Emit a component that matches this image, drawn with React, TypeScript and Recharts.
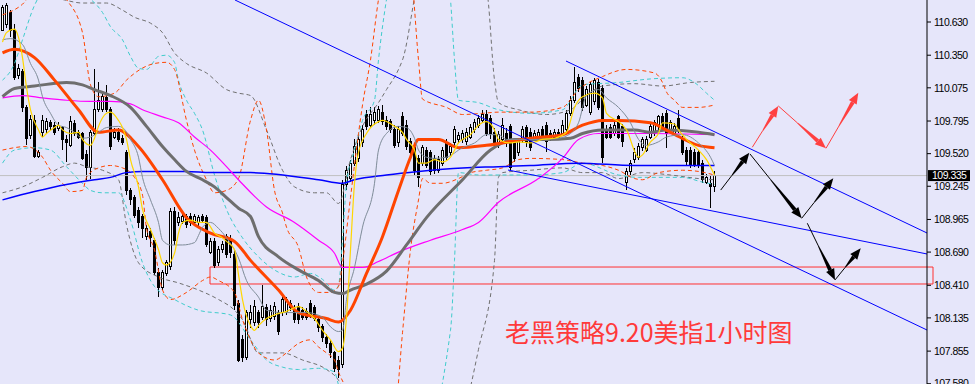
import React from 'react';
import { ComposedChart, Bar, Line, XAxis, YAxis, ReferenceLine, ReferenceArea } from 'recharts';

// candles, one per hour
const opens = [
  110.56, 110.61, 110.71, 110.56, 110.18, 110.21, 109.91, 109.67, 109.8, 109.5,
  109.7, 109.72, 109.78, 109.76, 109.73, 109.74, 109.64, 109.59, 109.77, 109.7,
  109.69, 109.51, 109.4, 109.69, 109.89, 109.89, 109.99, 109.89, 109.66, 109.7,
  109.65, 109.53, 109.21, 109.15, 109.04, 108.99, 108.82, 108.86, 108.79, 108.52,
  108.39, 108.51, 108.57, 109.03, 108.94, 108.95, 108.99, 108.99, 108.94, 108.94,
  108.99, 108.98, 108.69, 108.78, 108.6, 108.71, 108.82, 108.79, 108.67, 108.26,
  107.95, 107.8, 108.12, 108.1, 108.18, 108.14, 108.22, 108.13, 108.15, 108.18,
  108.18, 108.19, 108.26, 108.2, 108.23, 108.2, 108.19, 108.26, 108.22, 108.12,
  108.06, 107.97, 107.92, 107.84, 107.78, 107.74, 109.26, 109.31, 109.44, 109.48,
  109.61, 109.85, 109.76, 109.8, 109.8, 109.87, 109.8, 109.79, 109.72, 109.61,
  109.83, 109.76, 109.62, 109.57, 109.48, 109.44, 109.55, 109.53, 109.48, 109.38,
  109.44, 109.61, 109.53, 109.61, 109.64, 109.64, 109.62, 109.66, 109.72, 109.76,
  109.8, 109.85, 109.82, 109.7, 109.59, 109.64, 109.69, 109.75, 109.62, 109.53,
  109.64, 109.74, 109.7, 109.65, 109.66, 109.72, 109.76, 109.69, 109.66, 109.7,
  109.69, 109.72, 109.86, 109.97, 110.16, 110.14, 109.93, 109.87, 109.96, 110.12,
  110.07, 109.72, 109.74, 109.69, 109.83, 109.75, 109.28, 109.37, 109.47, 109.49,
  109.57, 109.55, 109.66, 109.69, 109.75, 109.83, 109.86, 109.72, 109.69, 109.82,
  109.64, 109.55, 109.55, 109.53, 109.53, 109.44, 109.28, 109.27, 109.24,
];
const closes = [
  110.75, 110.77, 110.56, 110.16, 110.24, 109.91, 109.65, 109.81, 109.5, 109.53,
  109.8, 109.79, 109.75, 109.7, 109.76, 109.64, 109.61, 109.79, 109.69, 109.66,
  109.48, 109.4, 109.7, 109.89, 109.97, 110.0, 109.89, 109.58, 109.7, 109.64,
  109.61, 109.21, 109.13, 109.0, 108.94, 108.89, 108.89, 108.81, 108.52, 108.39,
  108.52, 108.6, 109.03, 108.79, 108.98, 108.99, 108.92, 108.94, 108.99, 108.98,
  108.96, 108.75, 108.78, 108.58, 108.71, 108.75, 108.67, 108.69, 108.24, 107.78,
  107.8, 108.18, 108.18, 108.23, 108.1, 108.23, 108.12, 108.2, 108.23, 108.02,
  108.29, 108.29, 108.22, 108.12, 108.12, 108.14, 108.14, 108.16, 108.13, 108.05,
  107.97, 107.92, 107.84, 107.71, 107.7, 109.26, 109.38, 109.44, 109.58, 109.64,
  109.72, 109.75, 109.85, 109.87, 109.89, 109.79, 109.75, 109.72, 109.59, 109.72,
  109.69, 109.58, 109.53, 109.38, 109.32, 109.57, 109.42, 109.37, 109.38, 109.47,
  109.55, 109.49, 109.58, 109.72, 109.67, 109.69, 109.7, 109.74, 109.78, 109.82,
  109.85, 109.69, 109.69, 109.61, 109.68, 109.76, 109.61, 109.4, 109.48, 109.62,
  109.72, 109.61, 109.57, 109.69, 109.7, 109.65, 109.62, 109.65, 109.7, 109.66,
  109.76, 109.86, 109.97, 110.12, 110.07, 109.91, 110.06, 110.1, 110.14, 109.91,
  109.49, 109.66, 109.66, 109.76, 109.66, 109.62, 109.37, 109.44, 109.53, 109.58,
  109.64, 109.64, 109.75, 109.78, 109.83, 109.75, 109.69, 109.78, 109.75, 109.72,
  109.53, 109.45, 109.42, 109.42, 109.42, 109.3, 109.32, 109.24, 109.335,
];
const highs = [
  110.77, 110.79, 110.73, 110.61, 110.28, 110.23, 109.93, 109.85, 109.85, 109.55,
  109.85, 109.82, 109.8, 109.79, 109.79, 109.75, 109.68, 109.84, 109.8, 109.72,
  109.7, 109.55, 109.72, 110.23, 110.12, 110.04, 110.1, 109.91, 109.74, 109.74,
  109.68, 109.55, 109.23, 109.17, 109.07, 109.01, 108.92, 108.89, 108.81, 108.56,
  108.54, 108.62, 109.06, 109.07, 109.03, 109.03, 109.01, 109.02, 109.01, 109.0,
  109.01, 109.0, 108.81, 108.81, 108.74, 108.78, 108.84, 108.83, 108.71, 108.29,
  107.99, 108.2, 108.24, 108.29, 108.2, 108.41, 108.25, 108.24, 108.27, 108.2,
  108.32, 108.31, 108.29, 108.24, 108.26, 108.23, 108.22, 108.29, 108.24, 108.14,
  108.08, 108.0, 107.95, 107.86, 107.81, 109.3, 109.42, 109.47, 109.64, 109.68,
  109.76, 109.89, 109.91, 109.91, 109.92, 109.93, 109.84, 109.81, 109.76, 109.75,
  109.87, 109.8, 109.65, 109.59, 109.51, 109.59, 109.58, 109.55, 109.51, 109.5,
  109.58, 109.64, 109.61, 109.75, 109.7, 109.72, 109.74, 109.77, 109.81, 109.85,
  109.89, 109.89, 109.85, 109.74, 109.71, 109.82, 109.74, 109.77, 109.65, 109.65,
  109.75, 109.76, 109.74, 109.72, 109.73, 109.75, 109.79, 109.72, 109.73, 109.73,
  109.8, 109.89, 110.01, 110.25, 110.19, 110.17, 110.09, 110.12, 110.16, 110.15,
  110.1, 109.76, 109.77, 109.8, 109.85, 109.77, 109.4, 109.47, 109.57, 109.61,
  109.66, 109.67, 109.78, 109.8, 109.85, 109.86, 109.89, 109.8, 109.78, 109.89,
  109.67, 109.58, 109.58, 109.56, 109.55, 109.47, 109.35, 109.33, 109.37,
];
const lows = [
  110.55, 110.58, 110.5, 110.14, 110.15, 109.87, 109.59, 109.64, 109.48, 109.48,
  109.66, 109.69, 109.72, 109.68, 109.71, 109.55, 109.45, 109.58, 109.67, 109.64,
  109.47, 109.3, 109.31, 109.68, 109.87, 109.87, 109.87, 109.55, 109.64, 109.62,
  109.59, 109.17, 109.09, 108.98, 108.89, 108.81, 108.79, 108.73, 108.5, 108.31,
  108.37, 108.49, 108.54, 108.75, 108.91, 108.93, 108.89, 108.91, 108.92, 108.91,
  108.94, 108.73, 108.67, 108.56, 108.57, 108.68, 108.64, 108.64, 108.2, 107.76,
  107.76, 107.78, 108.05, 108.07, 108.05, 108.12, 108.07, 108.1, 108.12, 107.99,
  108.15, 108.16, 108.19, 108.09, 108.08, 108.12, 108.12, 108.13, 108.11, 108.02,
  107.93, 107.88, 107.8, 107.68, 107.63, 107.71, 109.21, 109.28, 109.42, 109.45,
  109.58, 109.72, 109.74, 109.76, 109.78, 109.76, 109.72, 109.69, 109.57, 109.58,
  109.67, 109.55, 109.5, 109.34, 109.24, 109.42, 109.4, 109.34, 109.35, 109.36,
  109.42, 109.47, 109.5, 109.58, 109.61, 109.61, 109.59, 109.64, 109.69, 109.74,
  109.78, 109.67, 109.64, 109.58, 109.57, 109.61, 109.58, 109.38, 109.45, 109.5,
  109.61, 109.58, 109.54, 109.63, 109.64, 109.63, 109.53, 109.63, 109.64, 109.64,
  109.67, 109.69, 109.84, 109.95, 110.04, 109.88, 109.91, 109.85, 109.93, 109.89,
  109.44, 109.64, 109.64, 109.67, 109.64, 109.58, 109.21, 109.34, 109.44, 109.47,
  109.54, 109.53, 109.64, 109.67, 109.72, 109.72, 109.57, 109.69, 109.67, 109.69,
  109.51, 109.42, 109.4, 109.41, 109.4, 109.27, 109.26, 109.06, 109.2,
];

// moving averages: [bar, price]
const yellowMa = [
  [0, 110.46], [1, 110.54], [3, 110.57], [4, 110.5], [5, 110.33], [6, 110.08], [7, 109.89], [9, 109.72],
  [10, 109.66], [11, 109.69], [13, 109.74], [14, 109.76], [15, 109.72], [17, 109.69], [19, 109.7], [20, 109.64],
  [22, 109.59], [23, 109.65], [24, 109.75], [26, 109.86], [27, 109.87], [29, 109.8], [30, 109.74], [31, 109.64],
  [32, 109.47], [34, 109.24], [35, 109.05], [37, 108.88], [39, 108.71], [40, 108.6], [41, 108.58], [43, 108.68],
  [44, 108.85], [45, 108.94], [47, 108.96], [49, 108.94], [50, 108.94], [51, 108.94], [53, 108.85], [55, 108.81],
  [56, 108.78], [58, 108.71], [59, 108.5], [60, 108.29], [62, 108.07], [63, 108.03], [64, 108.07], [66, 108.13],
  [68, 108.16], [71, 108.19], [74, 108.23], [76, 108.19], [78, 108.13], [80, 108.03], [82, 107.95], [84, 107.85],
  [85, 107.88], [86, 108.14], [87, 108.71], [88, 109.27], [89, 109.53], [91, 109.69], [94, 109.79], [95, 109.8],
  [98, 109.75], [100, 109.7], [101, 109.64], [103, 109.55], [104, 109.44], [106, 109.44], [108, 109.47], [110, 109.45],
  [112, 109.49], [114, 109.61], [117, 109.68], [119, 109.76], [121, 109.79], [123, 109.72], [124, 109.64], [127, 109.61],
  [129, 109.62], [132, 109.61], [135, 109.64], [138, 109.65], [141, 109.7], [143, 109.91], [145, 110.0], [148, 110.03],
  [150, 109.99], [151, 109.86], [154, 109.79], [156, 109.72], [159, 109.49], [160, 109.51], [162, 109.62], [164, 109.69],
  [165, 109.78], [168, 109.77], [169, 109.72], [171, 109.64], [174, 109.55], [176, 109.47], [178, 109.34],
];
const slateMa = [
  [0, 110.48], [2, 110.49], [5, 110.44], [7, 110.28], [9, 110.14], [10, 110.0], [12, 109.86], [14, 109.76],
  [16, 109.74], [18, 109.7], [20, 109.65], [22, 109.66], [24, 109.7], [26, 109.74], [29, 109.75], [30, 109.74],
  [32, 109.64], [34, 109.49], [35, 109.32], [37, 109.13], [39, 108.94], [40, 108.79], [42, 108.75], [45, 108.75],
  [48, 108.77], [49, 108.83], [50, 108.9], [52, 108.94], [54, 108.89], [56, 108.81], [59, 108.64], [61, 108.45],
  [64, 108.31], [66, 108.2], [70, 108.18], [73, 108.18], [76, 108.18], [80, 108.14], [82, 108.06], [84, 108.02],
  [85, 108.03], [86, 108.29], [88, 108.56], [90, 108.9], [93, 109.27], [94, 109.55], [96, 109.69], [99, 109.75],
  [101, 109.74], [103, 109.65], [104, 109.55], [106, 109.49], [108, 109.48], [111, 109.49], [115, 109.57], [118, 109.61],
  [121, 109.68], [124, 109.68], [126, 109.64], [129, 109.64], [134, 109.64], [139, 109.65], [142, 109.69], [144, 109.78],
  [146, 110.01], [149, 110.06], [151, 109.99], [154, 109.91], [157, 109.78], [159, 109.64], [161, 109.59], [164, 109.62],
  [166, 109.66], [170, 109.68], [174, 109.61], [177, 109.49], [178, 109.42],
];
const orangeMa = [
  [0, 110.37], [3, 110.4], [8, 110.33], [13, 110.14], [19, 109.89], [24, 109.7], [29, 109.72], [34, 109.58],
  [40, 109.3], [46, 108.98], [52, 108.85], [58, 108.78], [62, 108.62], [69, 108.37], [74, 108.18], [81, 108.13],
  [84, 108.1], [87, 108.2], [91, 108.51], [95, 108.82], [99, 109.21], [102, 109.49], [104, 109.64], [109, 109.64],
  [114, 109.57], [121, 109.59], [132, 109.65], [140, 109.68], [145, 109.76], [150, 109.8], [154, 109.8], [162, 109.78],
  [167, 109.7], [174, 109.59], [178, 109.57],
];
const grayMa = [
  [0, 110.0], [3, 110.07], [8, 110.09], [16, 110.12], [20, 110.1], [23, 110.06], [27, 110.01], [32, 109.91],
  [36, 109.75], [40, 109.58], [43, 109.47], [46, 109.37], [50, 109.3], [53, 109.24], [56, 109.15], [59, 109.06],
  [62, 108.99], [64, 108.82], [69, 108.65], [74, 108.54], [79, 108.45], [83, 108.35], [85, 108.34], [87, 108.37],
  [91, 108.42], [96, 108.53], [101, 108.75], [106, 108.98], [115, 109.3], [122, 109.55], [128, 109.64], [136, 109.64],
  [142, 109.65], [145, 109.69], [150, 109.72], [158, 109.72], [162, 109.7], [166, 109.72], [174, 109.7], [178, 109.68],
];
const magentaMa = [
  [0, 109.99], [5, 110.01], [10, 109.99], [16, 109.97], [22, 109.96], [27, 109.96], [32, 109.94], [35, 109.89],
  [40, 109.83], [44, 109.78], [48, 109.66], [52, 109.55], [56, 109.41], [59, 109.3], [66, 109.07], [73, 108.94],
  [79, 108.79], [83, 108.68], [85, 108.56], [87, 108.56], [90, 108.56], [94, 108.61], [99, 108.69], [107, 108.79],
  [115, 108.88], [119, 108.94], [124, 109.11], [134, 109.31], [140, 109.48], [144, 109.64], [149, 109.69], [162, 109.69],
  [178, 109.68],
];
const blueMa = [
  [0, 109.13], [8, 109.2], [16, 109.26], [23, 109.3], [27, 109.32], [31, 109.36], [35, 109.37], [41, 109.37],
  [46, 109.37], [52, 109.36], [62, 109.36], [79, 109.3], [85, 109.27], [88, 109.3], [96, 109.34], [104, 109.37],
  [115, 109.4], [124, 109.41], [132, 109.42], [144, 109.44], [158, 109.42], [178, 109.42],
];

// bollinger bands, dashed: orange, turquoise, gray
const orangeUpper = [
  [0, 110.69], [5, 110.78], [10, 110.98], [16, 110.82], [20, 110.54], [22, 110.1], [24, 110.0], [28, 110.03],
  [31, 110.14], [38, 110.28], [41, 110.29], [43, 110.23], [46, 109.8], [48, 109.55], [51, 109.3], [53, 109.19],
  [56, 109.21], [59, 109.31], [62, 109.8], [64, 109.97], [66, 109.72], [68, 109.21], [70, 109.02], [71, 108.9],
  [74, 108.73], [76, 108.48], [79, 108.35], [82, 108.35], [84, 108.4], [85, 108.6], [87, 109.15], [89, 109.69],
  [90, 109.93], [92, 110.31], [94, 110.82], [98, 111.32], [102, 111.07], [104, 110.31], [105, 109.98], [111, 109.91],
  [115, 109.85], [120, 109.86], [124, 109.87], [132, 109.87], [140, 109.91], [144, 110.06], [150, 110.17], [156, 110.23],
  [163, 110.2], [165, 110.12], [166, 110.04], [168, 109.97], [170, 109.91], [174, 109.91], [178, 109.93],
];
const orangeLower = [
  [0, 109.55], [6, 109.58], [10, 109.49], [12, 109.38], [15, 109.27], [17, 109.2], [20, 109.21], [21, 109.32],
  [24, 109.4], [27, 109.42], [30, 109.4], [33, 109.32], [35, 109.17], [36, 108.89], [38, 108.71], [40, 108.37],
  [42, 108.29], [46, 108.35], [50, 108.45], [52, 108.48], [54, 108.45], [58, 108.35], [60, 108.12], [62, 107.95],
  [64, 107.84], [68, 107.78], [71, 107.84], [74, 107.92], [77, 107.95], [79, 107.89], [81, 107.84], [83, 107.78],
  [84, 107.68], [86, 107.53], [92, 106.77], [98, 107.27], [100, 108.01], [102, 108.71], [104, 109.13], [105, 109.31],
  [107, 109.27], [110, 109.27], [114, 109.31], [117, 109.36], [121, 109.38], [125, 109.4], [129, 109.47], [132, 109.48],
  [140, 109.47], [145, 109.44], [150, 109.42], [154, 109.38], [158, 109.31], [160, 109.3], [164, 109.36], [170, 109.38],
  [174, 109.37], [178, 109.34],
];
const cyanUpper = [
  [0, 110.14], [3, 110.28], [5, 110.48], [8, 110.77], [12, 110.94], [22, 110.82], [25, 110.71], [27, 110.59],
  [30, 110.48], [32, 110.34], [34, 110.24], [36, 110.23], [39, 110.34], [41, 110.35], [43, 110.29], [44, 110.14],
  [46, 109.97], [48, 109.86], [50, 109.72], [53, 109.34], [56, 109.05], [60, 108.81], [64, 108.65], [69, 108.52],
  [73, 108.48], [77, 108.51], [80, 108.46], [83, 108.37], [84, 108.41], [85, 108.79], [86, 109.27], [88, 109.55],
  [90, 109.8], [93, 109.97], [94, 110.31], [96, 110.82], [100, 111.32], [110, 111.32], [112, 110.82], [113, 110.31],
  [114, 109.97], [119, 109.95], [124, 109.89], [132, 109.86], [140, 109.89], [145, 110.1], [154, 110.12], [162, 110.15],
  [170, 110.16], [173, 110.12], [176, 110.03], [178, 109.97],
];
const cyanLower = [
  [0, 109.44], [3, 109.55], [8, 109.57], [12, 109.55], [16, 109.41], [20, 109.27], [22, 109.21], [25, 109.19],
  [29, 109.19], [32, 108.96], [35, 108.6], [38, 108.4], [43, 108.29], [49, 108.2], [57, 108.16], [62, 107.95],
  [66, 107.78], [70, 107.72], [74, 107.7], [79, 107.71], [83, 107.68], [84, 107.57], [89, 107.02], [104, 107.02],
  [112, 108.03], [113, 108.62], [114, 109.36], [119, 109.34], [132, 109.34], [140, 109.36], [145, 109.44], [154, 109.34],
  [159, 109.32], [170, 109.32], [175, 109.28], [178, 109.26],
];
const grayUpper = [
  [0, 110.98], [15, 110.82], [20, 110.79], [26, 110.79], [30, 110.73], [33, 110.67], [37, 110.62], [40, 110.54],
  [43, 110.37], [46, 110.28], [51, 110.2], [56, 110.06], [59, 110.03], [62, 110.01], [66, 109.72], [70, 109.38],
  [73, 109.24], [78, 109.19], [81, 109.19], [84, 109.1], [87, 109.47], [90, 109.75], [94, 109.95], [96, 110.06],
  [99, 110.23], [100, 110.31], [105, 111.07], [115, 111.15], [121, 110.9], [123, 110.14], [124, 109.95], [129, 109.89],
  [136, 109.85], [142, 109.89], [146, 110.01], [150, 110.09], [158, 110.11], [165, 110.09], [172, 110.12], [178, 110.13],
];
const grayLower = [
  [0, 109.19], [5, 109.24], [10, 109.32], [15, 109.41], [18, 109.44], [21, 109.41], [25, 109.38], [29, 109.3],
  [31, 108.92], [34, 108.6], [39, 108.48], [44, 108.43], [49, 108.37], [54, 108.29], [58, 108.2], [60, 108.12],
  [64, 107.84], [70, 107.84], [75, 107.78], [81, 107.7], [84, 107.61], [89, 107.19], [99, 106.77], [112, 107.02],
  [119, 107.87], [123, 108.62], [124, 109.32], [125, 109.36], [132, 109.38], [140, 109.4], [145, 109.36], [150, 109.36],
  [154, 109.31], [160, 109.36], [167, 109.34], [174, 109.31], [178, 109.3],
];

const priceTicks = [110.63, 110.35, 110.075, 109.795, 109.52, 109.245, 108.965, 108.69, 108.41, 108.135, 107.855, 107.58];
const lastPrice = 109.335;

// drawn channel lines: [bar, price] to [bar, price]
const trendLines = [
  [[58.125, 110.8155], [231.125, 108.033]],
  [[140.875, 110.301], [231.125, 108.851]],
  [[126.375, 109.382], [231.125, 108.674]],
];
const blackArrows = [
  [[179.55, 109.213], [186.7, 109.528]],
  [[186.875, 109.517], [199.8, 108.975]],
  [[199.8, 108.975], [207.7, 109.312]],
  [[201.2, 108.933], [208.125, 108.455]],
  [[208.125, 108.455], [214.55, 108.722]],
];
const redArrows = [
  [[187.45, 109.574], [193.95, 109.922]],
  [[193.95, 109.922], [205.875, 109.565]],
  [[205.875, 109.565], [213.95, 110.034]],
];
const zone = { x1: 51.875, x2: 232.625, y1: 108.421, y2: 108.564 };
const title = '老黑策略9.20美指1小时图';

const overlays: Record<string, number[][]> = {
  yellow: yellowMa,
  slate: slateMa,
  orange: orangeMa,
  gray: grayMa,
  magenta: magentaMa,
  blue: blueMa,
  oUp: orangeUpper,
  oLo: orangeLower,
  cUp: cyanUpper,
  cLo: cyanLower,
  gUp: grayUpper,
  gLo: grayLower,
};

const data = opens.map((o, i) => {
  const row: any = { i, open: o, close: closes[i], high: highs[i], low: lows[i], range: [lows[i], highs[i]] };
  Object.keys(overlays).forEach((k) => {
    const hit = overlays[k].find((p) => p[0] === i);
    row[k] = hit ? hit[1] : null;
  });
  return row;
});

const Candle = (props: any) => {
  const { x, y, width, height, payload } = props;
  if (!payload || payload.high == null) return null;
  const { open, close, high, low } = payload;
  const top = Math.min(y, y + height);
  const h = Math.abs(height);
  const span = high - low || 1e-6;
  const toY = (v: number) => top + ((high - v) / span) * h;
  const cx = x + width / 2;
  const bTop = toY(Math.max(open, close));
  const bBot = toY(Math.min(open, close));
  const up = close >= open;
  return (
    <g shapeRendering="crispEdges">
      <line x1={cx} x2={cx} y1={top} y2={top + h} stroke="#000" />
      <rect x={cx - 1} y={bTop} width={2} height={Math.max(bBot - bTop, 1)} fill={up ? '#fff' : '#000'} stroke="#000" />
    </g>
  );
};

const arrowShape = (color: string) => (props: any) => {
  const { x1, y1, x2, y2 } = props;
  const dx = x2 - x1;
  const dy = y2 - y1;
  const len = Math.hypot(dx, dy) || 1;
  const ux = dx / len;
  const uy = dy / len;
  const px = -uy;
  const py = ux;
  const head = 11;
  const hw = 4.5;
  const bx = x2 - ux * head;
  const by = y2 - uy * head;
  const mx = x1 + dx * 0.4;
  const my = y1 + dy * 0.4;
  return (
    <g>
      <line x1={x1} y1={y1} x2={mx} y2={my} stroke={color} strokeWidth={1} />
      <polygon
        points={`${mx + px * 0.5},${my + py * 0.5} ${bx + px * 2},${by + py * 2} ${bx - px * 2},${by - py * 2} ${mx - px * 0.5},${my - py * 0.5}`}
        fill={color}
      />
      <polygon points={`${x2},${y2} ${bx + px * hw},${by + py * hw} ${bx - px * hw},${by - py * hw}`} fill={color} />
    </g>
  );
};

const PriceTag = (props: any) => {
  const { viewBox } = props;
  if (!viewBox) return null;
  const x = viewBox.x + viewBox.width + 1;
  const y = viewBox.y;
  return (
    <g>
      <rect x={x} y={y - 5.5} width={42} height={11} fill="#000" />
      <text x={x + 4} y={y} dy="0.36em" fill="#fff" fontSize={10.5} fontFamily="Liberation Sans" letterSpacing={-0.5}>
        {lastPrice.toFixed(3)}
      </text>
    </g>
  );
};

const axisFont = { fill: '#000', fontSize: 10.5, fontFamily: 'Liberation Sans', letterSpacing: -0.5 };

const bandLine = (key: string, color: string) => (
  <Line
    key={key}
    dataKey={key}
    type="monotone"
    connectNulls
    dot={false}
    activeDot={false}
    stroke={color}
    strokeWidth={1}
    strokeDasharray="4 3"
    isAnimationActive={false}
  />
);

const maLine = (key: string, color: string, w: number) => (
  <Line
    key={key}
    dataKey={key}
    type="monotone"
    connectNulls
    dot={false}
    activeDot={false}
    stroke={color}
    strokeWidth={w}
    isAnimationActive={false}
  />
);

export default function App() {
  return (
    <div style={{ position: 'fixed', left: 0, top: 0, width: 975, height: 384, overflow: 'hidden', background: '#E6E6FA' }}>
      <ComposedChart width={975} height={400} data={data} margin={{ top: 0, right: 0, left: 0, bottom: 0 }}>
        <XAxis dataKey="i" type="number" domain={[-0.625, 231.125]} hide allowDataOverflow />
        <YAxis
          orientation="right"
          domain={[107.4428, 110.8155]}
          ticks={priceTicks}
          interval={0}
          allowDataOverflow
          width={48}
          tickSize={4}
          tickMargin={3}
          axisLine={{ stroke: '#000' }}
          tickLine={{ stroke: '#000' }}
          tick={axisFont}
          tickFormatter={(v: number) => v.toFixed(3)}
        />
        <ReferenceLine y={lastPrice} stroke="#C0C0C0" label={<PriceTag />} />
        <ReferenceArea {...zone} fill="none" stroke="#FF3030" strokeWidth={1} ifOverflow="visible" />
        <Bar dataKey="range" barSize={3} shape={(p: any) => <Candle {...p} />} activeBar={false} isAnimationActive={false} />
        {bandLine('gUp', '#707070')}
        {bandLine('gLo', '#707070')}
        {bandLine('cUp', '#40CCCC')}
        {bandLine('cLo', '#40CCCC')}
        {bandLine('oUp', '#FF4500')}
        {bandLine('oLo', '#FF4500')}
        {maLine('blue', '#0000FF', 1.5)}
        {maLine('magenta', '#FF00FF', 1.2)}
        {maLine('gray', '#6E6E6E', 3)}
        {maLine('orange', '#FF4500', 3)}
        {maLine('slate', '#7F8C99', 1)}
        {maLine('yellow', '#FFD700', 1.2)}
        {trendLines.map((s, k) => (
          <ReferenceLine
            key={`t${k}`}
            segment={[{ x: s[0][0], y: s[0][1] }, { x: s[1][0], y: s[1][1] }]}
            stroke="#0000FF"
            strokeWidth={1}
            ifOverflow="hidden"
          />
        ))}
        {blackArrows.map((s, k) => (
          <ReferenceLine
            key={`b${k}`}
            segment={[{ x: s[0][0], y: s[0][1] }, { x: s[1][0], y: s[1][1] }]}
            shape={arrowShape('#000')}
            ifOverflow="visible"
          />
        ))}
        {redArrows.map((s, k) => (
          <ReferenceLine
            key={`r${k}`}
            segment={[{ x: s[0][0], y: s[0][1] }, { x: s[1][0], y: s[1][1] }]}
            shape={arrowShape('#FF4040')}
            ifOverflow="visible"
          />
        ))}
      </ComposedChart>
      <div
        style={{
          position: 'absolute',
          left: 505,
          top: 316,
          fontSize: 25,
          lineHeight: '30px',
          color: '#FF3A3A',
          fontFamily: '"Noto Sans CJK SC", sans-serif',
          whiteSpace: 'nowrap',
        }}
      >
        {title}
      </div>
    </div>
  );
}
